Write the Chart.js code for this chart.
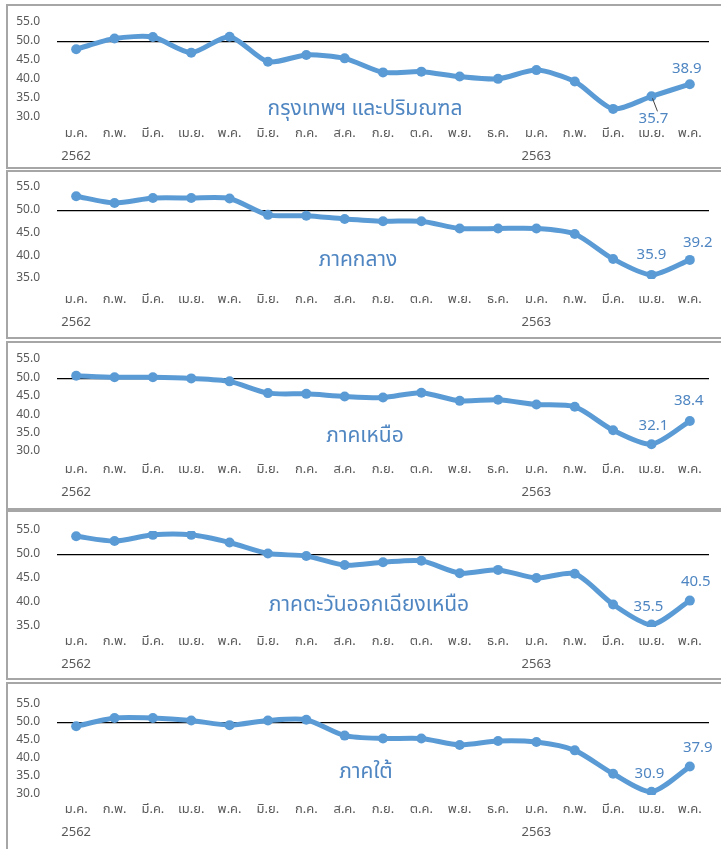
<!DOCTYPE html>
<html>
<head>
<meta charset="utf-8">
<script src="https://cdn.jsdelivr.net/npm/chart.js@4.4.1/dist/chart.umd.min.js"></script>
<style>
  html, body { margin: 0; padding: 0; background: #fff; overflow: hidden; width: 721px; height: 849px; }
  .panel { position: absolute; left: 6px; width: 740px; border: 2px solid #a6a6a6; border-right: none; box-sizing: border-box; background: #fff; }
  .panel canvas { position: absolute; left: 0; top: 0; }
</style>
</head>
<body>
<div id="wrap"></div>
<script>
const FONT = 'Tahoma, "Noto Sans Thai", "Noto Sans", "DejaVu Sans", sans-serif';

// months Jan 2562 .. May 2563
const months = ["ม.ค.", "ก.พ.", "มี.ค.", "เม.ย.", "พ.ค.", "มิ.ย.", "ก.ค.", "ส.ค.", "ก.ย.", "ต.ค.", "พ.ย.", "ธ.ค.",
                "ม.ค.", "ก.พ.", "มี.ค.", "เม.ย.", "พ.ค."];
const years = { 0: "2562", 12: "2563" };

const bangkok   = [48.1, 50.9, 51.3, 47.2, 51.4, 44.8, 46.6, 45.7, 42.0, 42.2, 40.9, 40.3, 42.6, 39.6, 32.4, 35.7, 38.9];
const central   = [53.2, 51.7, 52.8, 52.8, 52.7, 49.1, 48.9, 48.2, 47.7, 47.7, 46.1, 46.1, 46.1, 44.9, 39.4, 35.9, 39.2];
const north     = [50.7, 50.3, 50.3, 50.0, 49.2, 46.0, 45.8, 45.1, 44.8, 46.1, 43.9, 44.2, 42.9, 42.3, 35.9, 32.1, 38.4];
const northeast = [53.9, 52.9, 54.2, 54.2, 52.6, 50.3, 49.8, 47.9, 48.5, 48.8, 46.2, 46.9, 45.2, 46.1, 39.7, 35.5, 40.5];
const south     = [49.1, 51.4, 51.4, 50.7, 49.4, 50.7, 50.9, 46.5, 45.7, 45.7, 43.9, 45.0, 44.7, 42.4, 35.9, 30.9, 37.9];

const panelNames = ["กรุงเทพฯ และปริมณฑล", "ภาคกลาง", "ภาคเหนือ", "ภาคตะวันออกเฉียงเหนือ", "ภาคใต้"];
const axisMin = [30, 35, 30, 35, 30];
const axisMax = 55;

// layout of each box (px)
const panels = [
  { data: bangkok,   top: 4,   h: 165, padTop: 17, xh: 49, xPad: 5,  tx: 357, ty: 105,
    labels: [{ i: 15, dx: 2, dy: 24, leader: true }, { i: 16, dx: -3, dy: -14 }] },
  { data: central,   top: 170, h: 169, padTop: 16, xh: 58, xPad: 10, tx: 350, ty: 90,
    labels: [{ i: 15, dx: 0, dy: -19 }, { i: 16, dx: 8, dy: -16 }] },
  { data: north,     top: 341, h: 169, padTop: 17, xh: 56, xPad: 7,  tx: 357, ty: 95,
    labels: [{ i: 15, dx: 2, dy: -17 }, { i: 16, dx: -1, dy: -19 }] },
  { data: northeast, top: 510, h: 170, padTop: 19, xh: 51, xPad: 4,  tx: 361, ty: 95,
    labels: [{ i: 15, dx: -3, dy: -17 }, { i: 16, dx: 6, dy: -18 }] },
  { data: south,     top: 682, h: 170, padTop: 21, xh: 55, xPad: 4,  tx: 358, ty: 90,
    labels: [{ i: 15, dx: -2, dy: -17 }, { i: 16, dx: 8, dy: -18 }] }
];

const blue = "#5b9bd5";
const labelBlue = "#4f86c2";

// draws region name + the two value labels at the end
const annotate = {
  id: "annotate",
  afterDatasetsDraw(chart, args, opts) {
    const ctx = chart.ctx;
    const meta = chart.getDatasetMeta(0);
    ctx.save();
    ctx.fillStyle = labelBlue;
    ctx.textAlign = "center";
    ctx.textBaseline = "middle";
    ctx.font = "21px " + FONT;
    ctx.fillText(opts.name, opts.tx, opts.ty);
    ctx.font = "15px " + FONT;
    opts.labels.forEach(l => {
      const pt = meta.data[l.i];
      const v = chart.data.datasets[0].data[l.i];
      ctx.fillText(v.toFixed(1), pt.x + l.dx, pt.y + l.dy);
      if (l.leader) {
        ctx.strokeStyle = "#404040";
        ctx.lineWidth = 1;
        ctx.beginPath();
        ctx.moveTo(pt.x + 1, pt.y + 2);
        ctx.lineTo(pt.x + 6, pt.y + l.dy - 9);
        ctx.stroke();
      }
    });
    ctx.restore();
  }
};

let charts = [];
const wrap = document.getElementById("wrap");

panels.forEach((p, n) => {
  const div = document.createElement("div");
  div.className = "panel";
  div.style.top = p.top + "px";
  div.style.height = p.h + "px";
  const cv = document.createElement("canvas");
  const w = 713, h = p.h - 4;
  cv.width = w; cv.height = h;
  cv.style.width = w + "px"; cv.style.height = h + "px";
  div.appendChild(cv);
  wrap.appendChild(div);

  charts.push(new Chart(cv, {
    type: "line",
    data: {
      labels: months.map((m, i) => years[i] ? [m, years[i]] : m),
      datasets: [{
        data: p.data,
        borderColor: blue,
        backgroundColor: blue,
        borderWidth: 5,
        pointRadius: 5,
        pointBackgroundColor: blue,
        pointBorderWidth: 0,
        tension: 0.25
      }]
    },
    options: {
      responsive: false,
      animation: false,
      layout: { padding: { left: 8, right: 12, top: p.padTop, bottom: 0 } },
      plugins: {
        legend: { display: false },
        tooltip: { enabled: false },
        annotate: { name: panelNames[n], tx: p.tx, ty: p.ty, labels: p.labels }
      },
      scales: {
        x: {
          offset: true,
          grid: { display: false, drawTicks: false },
          border: { display: false },
          afterFit: s => { s.height = p.xh; },
          ticks: {
            color: "#595959",
            padding: p.xPad,
            maxRotation: 0,
            autoSkip: false,
            font: { family: FONT, size: 13, lineHeight: 1.75 }
          }
        },
        y: {
          min: axisMin[n],
          max: axisMax,
          afterFit: s => { s.width = 41; },
          border: { display: false },
          grid: {
            // invisible tick marks keep the gap between labels and plot
            drawTicks: true,
            tickLength: 17,
            tickColor: "rgba(0,0,0,0)",
            color: c => c.tick && c.tick.value === 50 ? "#000" : "rgba(0,0,0,0)",
            lineWidth: 1.3
          },
          ticks: {
            stepSize: 5,
            padding: 0,
            autoSkip: false,
            color: "#595959",
            font: { family: FONT, size: 12 },
            callback: v => v.toFixed(1)
          }
        }
      }
    },
    plugins: [annotate]
  }));
});
</script>
</body>
</html>
